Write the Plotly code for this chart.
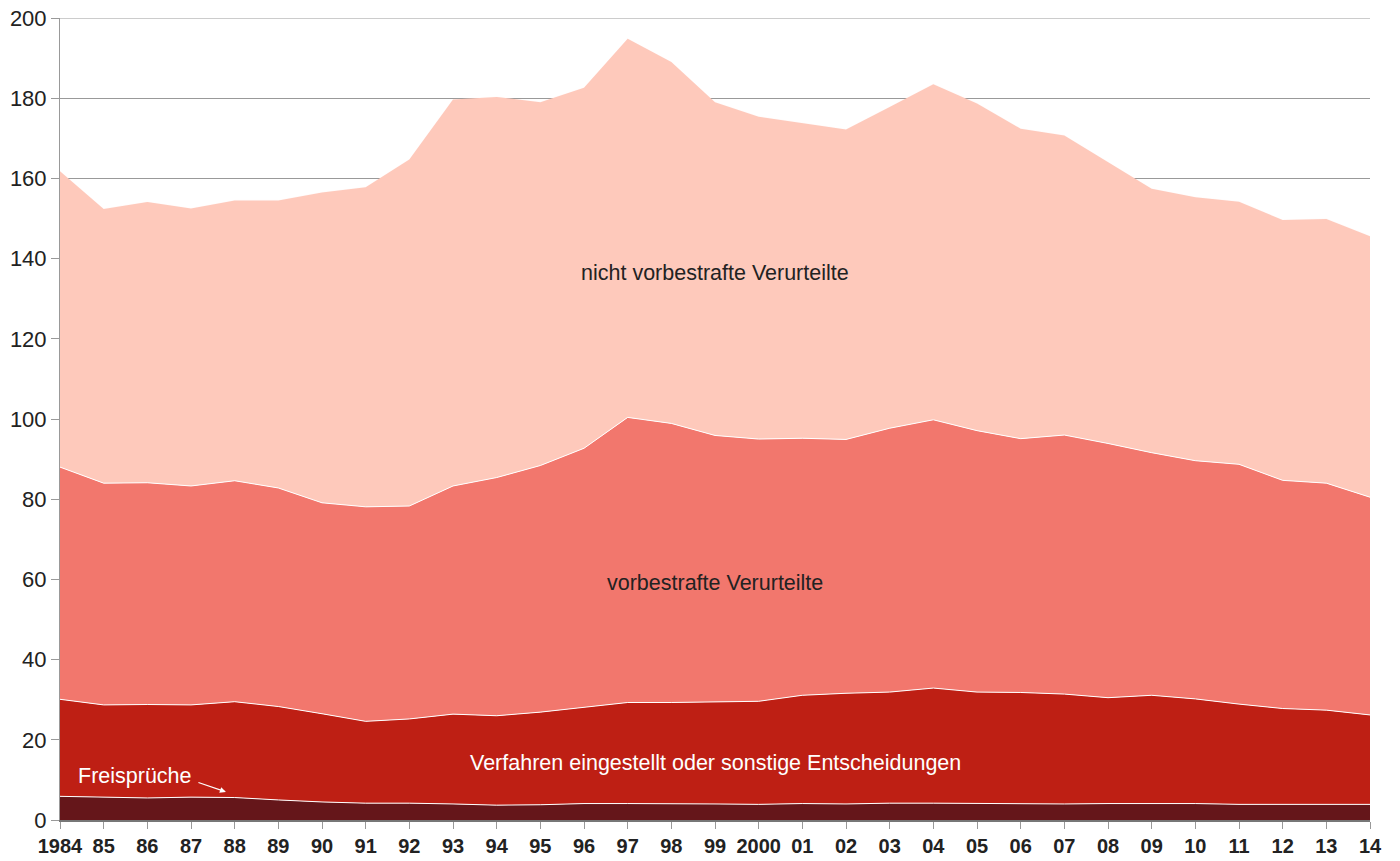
import plotly.graph_objects as go

years = list(range(1984, 2015))
year_labels = ["1984", "85", "86", "87", "88", "89", "90", "91", "92", "93", "94", "95", "96", "97",
               "98", "99", "2000", "01", "02", "03", "04", "05", "06", "07", "08", "09", "10", "11",
               "12", "13", "14"]

freisprueche = [5.9, 5.7, 5.5, 5.7, 5.6, 5.0, 4.5, 4.2, 4.2, 4.0, 3.7, 3.8, 4.1, 4.1, 4.1, 4.0,
                3.9, 4.1, 4.0, 4.2, 4.2, 4.1, 4.1, 4.0, 4.1, 4.1, 4.1, 3.9, 3.9, 3.9, 3.9]
verfahren = [24.2, 23.0, 23.3, 23.0, 23.9, 23.3, 22.0, 20.4, 21.0, 22.4, 22.3, 23.1, 24.0, 25.2,
             25.2, 25.5, 25.7, 27.0, 27.6, 27.7, 28.7, 27.8, 27.7, 27.4, 26.4, 27.0, 26.1, 25.0,
             23.9, 23.5, 22.3]
vorbestraft = [57.9, 55.3, 55.3, 54.6, 55.1, 54.5, 52.6, 53.5, 53.1, 56.9, 59.4, 61.5, 64.6, 71.1,
               69.6, 66.4, 65.4, 64.1, 63.3, 65.8, 66.9, 65.2, 63.3, 64.6, 63.4, 60.5, 59.4, 59.8,
               56.9, 56.6, 54.3]
nicht_vorbestraft = [73.8, 68.4, 70.0, 69.2, 69.9, 71.7, 77.4, 79.7, 86.4, 96.4, 94.9, 90.6, 89.9,
                     94.4, 90.1, 83.1, 80.4, 78.6, 77.3, 80.1, 83.7, 81.6, 77.3, 74.7, 70.1, 65.8,
                     65.7, 65.5, 64.9, 65.9, 65.1]
y_ticks = list(range(0, 201, 20))

series = [
    ("Freisprüche", freisprueche, "#65161a", 1),
    ("Verfahren eingestellt oder sonstige Entscheidungen", verfahren, "#be1f14", 1),
    ("vorbestrafte Verurteilte", vorbestraft, "#f2776d", 1),
    ("nicht vorbestrafte Verurteilte", nicht_vorbestraft, "#fec9bb", 0),
]

FONT = "Liberation Sans, Arial, Helvetica, sans-serif"

fig = go.Figure()
for name, vals, color, lw in series:
    fig.add_trace(go.Scatter(
        x=years, y=vals, name=name, mode="lines", stackgroup="one",
        fillcolor=color,
        line=dict(color="white" if lw else color, width=lw if lw else 0.1),
        hoverinfo="x+y+name",
    ))

fig.add_annotation(x=1999, y=136.5, text="nicht vorbestrafte Verurteilte", showarrow=False,
                   font=dict(family=FONT, size=21.5, color="#222222"))
fig.add_annotation(x=1999, y=59.2, text="vorbestrafte Verurteilte", showarrow=False,
                   font=dict(family=FONT, size=21.5, color="#222222"))
fig.add_annotation(x=1999, y=14.2, text="Verfahren eingestellt oder sonstige Entscheidungen",
                   showarrow=False, font=dict(family=FONT, size=21.5, color="white"))
fig.add_annotation(x=1985.72, y=11.0, text="Freisprüche", showarrow=False,
                   font=dict(family=FONT, size=21.5, color="white"))
fig.add_annotation(x=1987.8, y=7.0, text="", showarrow=True, ax=-29, ay=-10,
                   arrowhead=2, arrowsize=1, arrowwidth=1.2, arrowcolor="white")

# top gridline at the edge of the range
fig.add_shape(type="line", xref="paper", x0=0, x1=1, yref="y", y0=y_ticks[-1], y1=y_ticks[-1],
              line=dict(color="#999999", width=1), layer="below")

# page body has an 8px margin, so the figure is sized/offset to compensate
fig.update_layout(
    width=1392, height=853,
    margin=dict(l=52, r=30, t=10, b=41),
    plot_bgcolor="white", paper_bgcolor="white",
    showlegend=False,
    font=dict(family=FONT, size=19, color="#222222"),
    xaxis=dict(
        range=[1984, 2014], tickmode="array", tickvals=years, ticktext=year_labels,
        automargin=False,
        showgrid=False, zeroline=False, showline=True, linecolor="#777777", linewidth=1.5,
        ticks="outside", ticklen=7, tickcolor="#999999", tickwidth=1,
        tickfont=dict(family=FONT, size=20, color="#222222", weight="bold"),
    ),
    yaxis=dict(
        range=[0, 200], tickmode="array", tickvals=y_ticks,
        automargin=False, ticklabeloverflow="allow",
        showgrid=True, gridcolor="#999999", gridwidth=1, zeroline=False,
        showline=True, linecolor="#999999", linewidth=1,
        ticks="outside", ticklen=8, tickcolor="#999999",
        tickfont=dict(family=FONT, size=22, color="#222222"),
    ),
)

fig.write_html("out.html")
